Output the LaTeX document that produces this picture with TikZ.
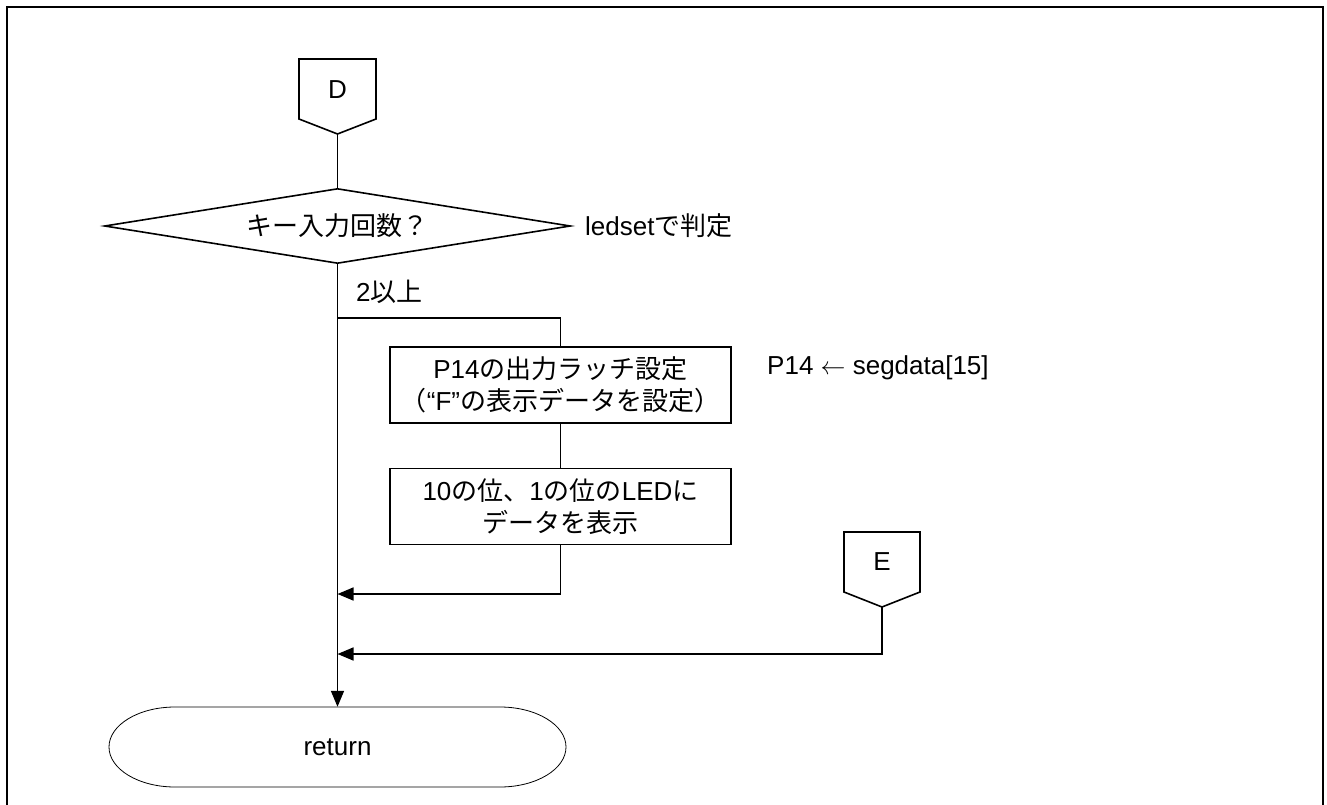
\documentclass[tikz,border=0pt]{standalone}
\usepackage{fontspec}
\setmainfont{Liberation Sans}
\newfontfamily\jp{Noto Sans CJK JP}
\usetikzlibrary{shapes.geometric,arrows.meta}
\begin{document}
\begin{tikzpicture}[x=1pt,y=-1pt,
  every node/.style={font=\fontsize{26}{32}\selectfont, inner sep=0pt},
  ln/.style={line width=1.6pt},
  arr/.style={ln,-{Triangle[length=16pt,width=13pt]}},
  procbox/.style={draw, line width=1.6pt, minimum width=341pt, minimum height=76pt, align=center},
  decbox/.style={draw, diamond, line width=1.6pt, aspect=6.2, minimum width=466pt, minimum height=75pt},
  lbl/.style={anchor=west}]
\useasboundingbox (0,0) rectangle (1327,805);
\draw[line width=2pt] (7,810) -- (7,7) -- (1323,7) -- (1323,810);
% off-page connector D
\node (D) at (337.5,90) {D};
\draw[ln,line join=miter] (299,59) -- (376,59) -- (376,119) -- (337.5,134) -- (299,119) -- cycle;
\coordinate (Dtip) at (337.5,134);
% decision
\node[decbox] (dia) at (337.5,226) {{\jp キー入力回数？}};
\node[lbl] (dlbl) at (585,226) {ledset{\jp で判定}};
\draw[ln] (Dtip) -- (dia.north);
% label
\node[lbl] (ge2) at (356,292) {2{\jp 以上}};
% process boxes
\node[procbox] (b1) at (560.5,385) {P14{\jp の出力ラッチ設定}\\{\jp （}“F”{\jp の表示データを設定）}};
\node[lbl] (p14) at (767,368) {P14 $\leftarrow$ segdata[15]};
\node[procbox] (b2) at (560.5,506.5) {10{\jp の位、}1{\jp の位の}LED{\jp に}\\{\jp データを表示}};
% off-page connector E
\node (E) at (882,562) {E};
\draw[ln,line join=miter] (844,532) -- (920,532) -- (920,592) -- (882,607) -- (844,592) -- cycle;
\coordinate (Etip) at (882,607);
% terminal
\node[minimum width=457pt, minimum height=80pt] (ret) at (337.5,747) {return};
\draw[line width=0.8pt] (175,707) -- (500,707) arc[start angle=-90,end angle=90,x radius=66,y radius=40] -- (175,787) arc[start angle=90,end angle=270,x radius=66,y radius=40] -- cycle;
% connectors
\coordinate (br) at (337.5,318);
\coordinate (j1) at (337.5,594);
\coordinate (j2) at (337.5,654);
\draw[arr] (dia.south) -- (ret.north);
\draw[ln] (br) -| (b1.north);
\draw[ln] (b1.south) -- (b2.north);
\draw[arr] (b2.south) |- (j1);
\draw[arr] (Etip) |- (j2);
\end{tikzpicture}
\end{document}
